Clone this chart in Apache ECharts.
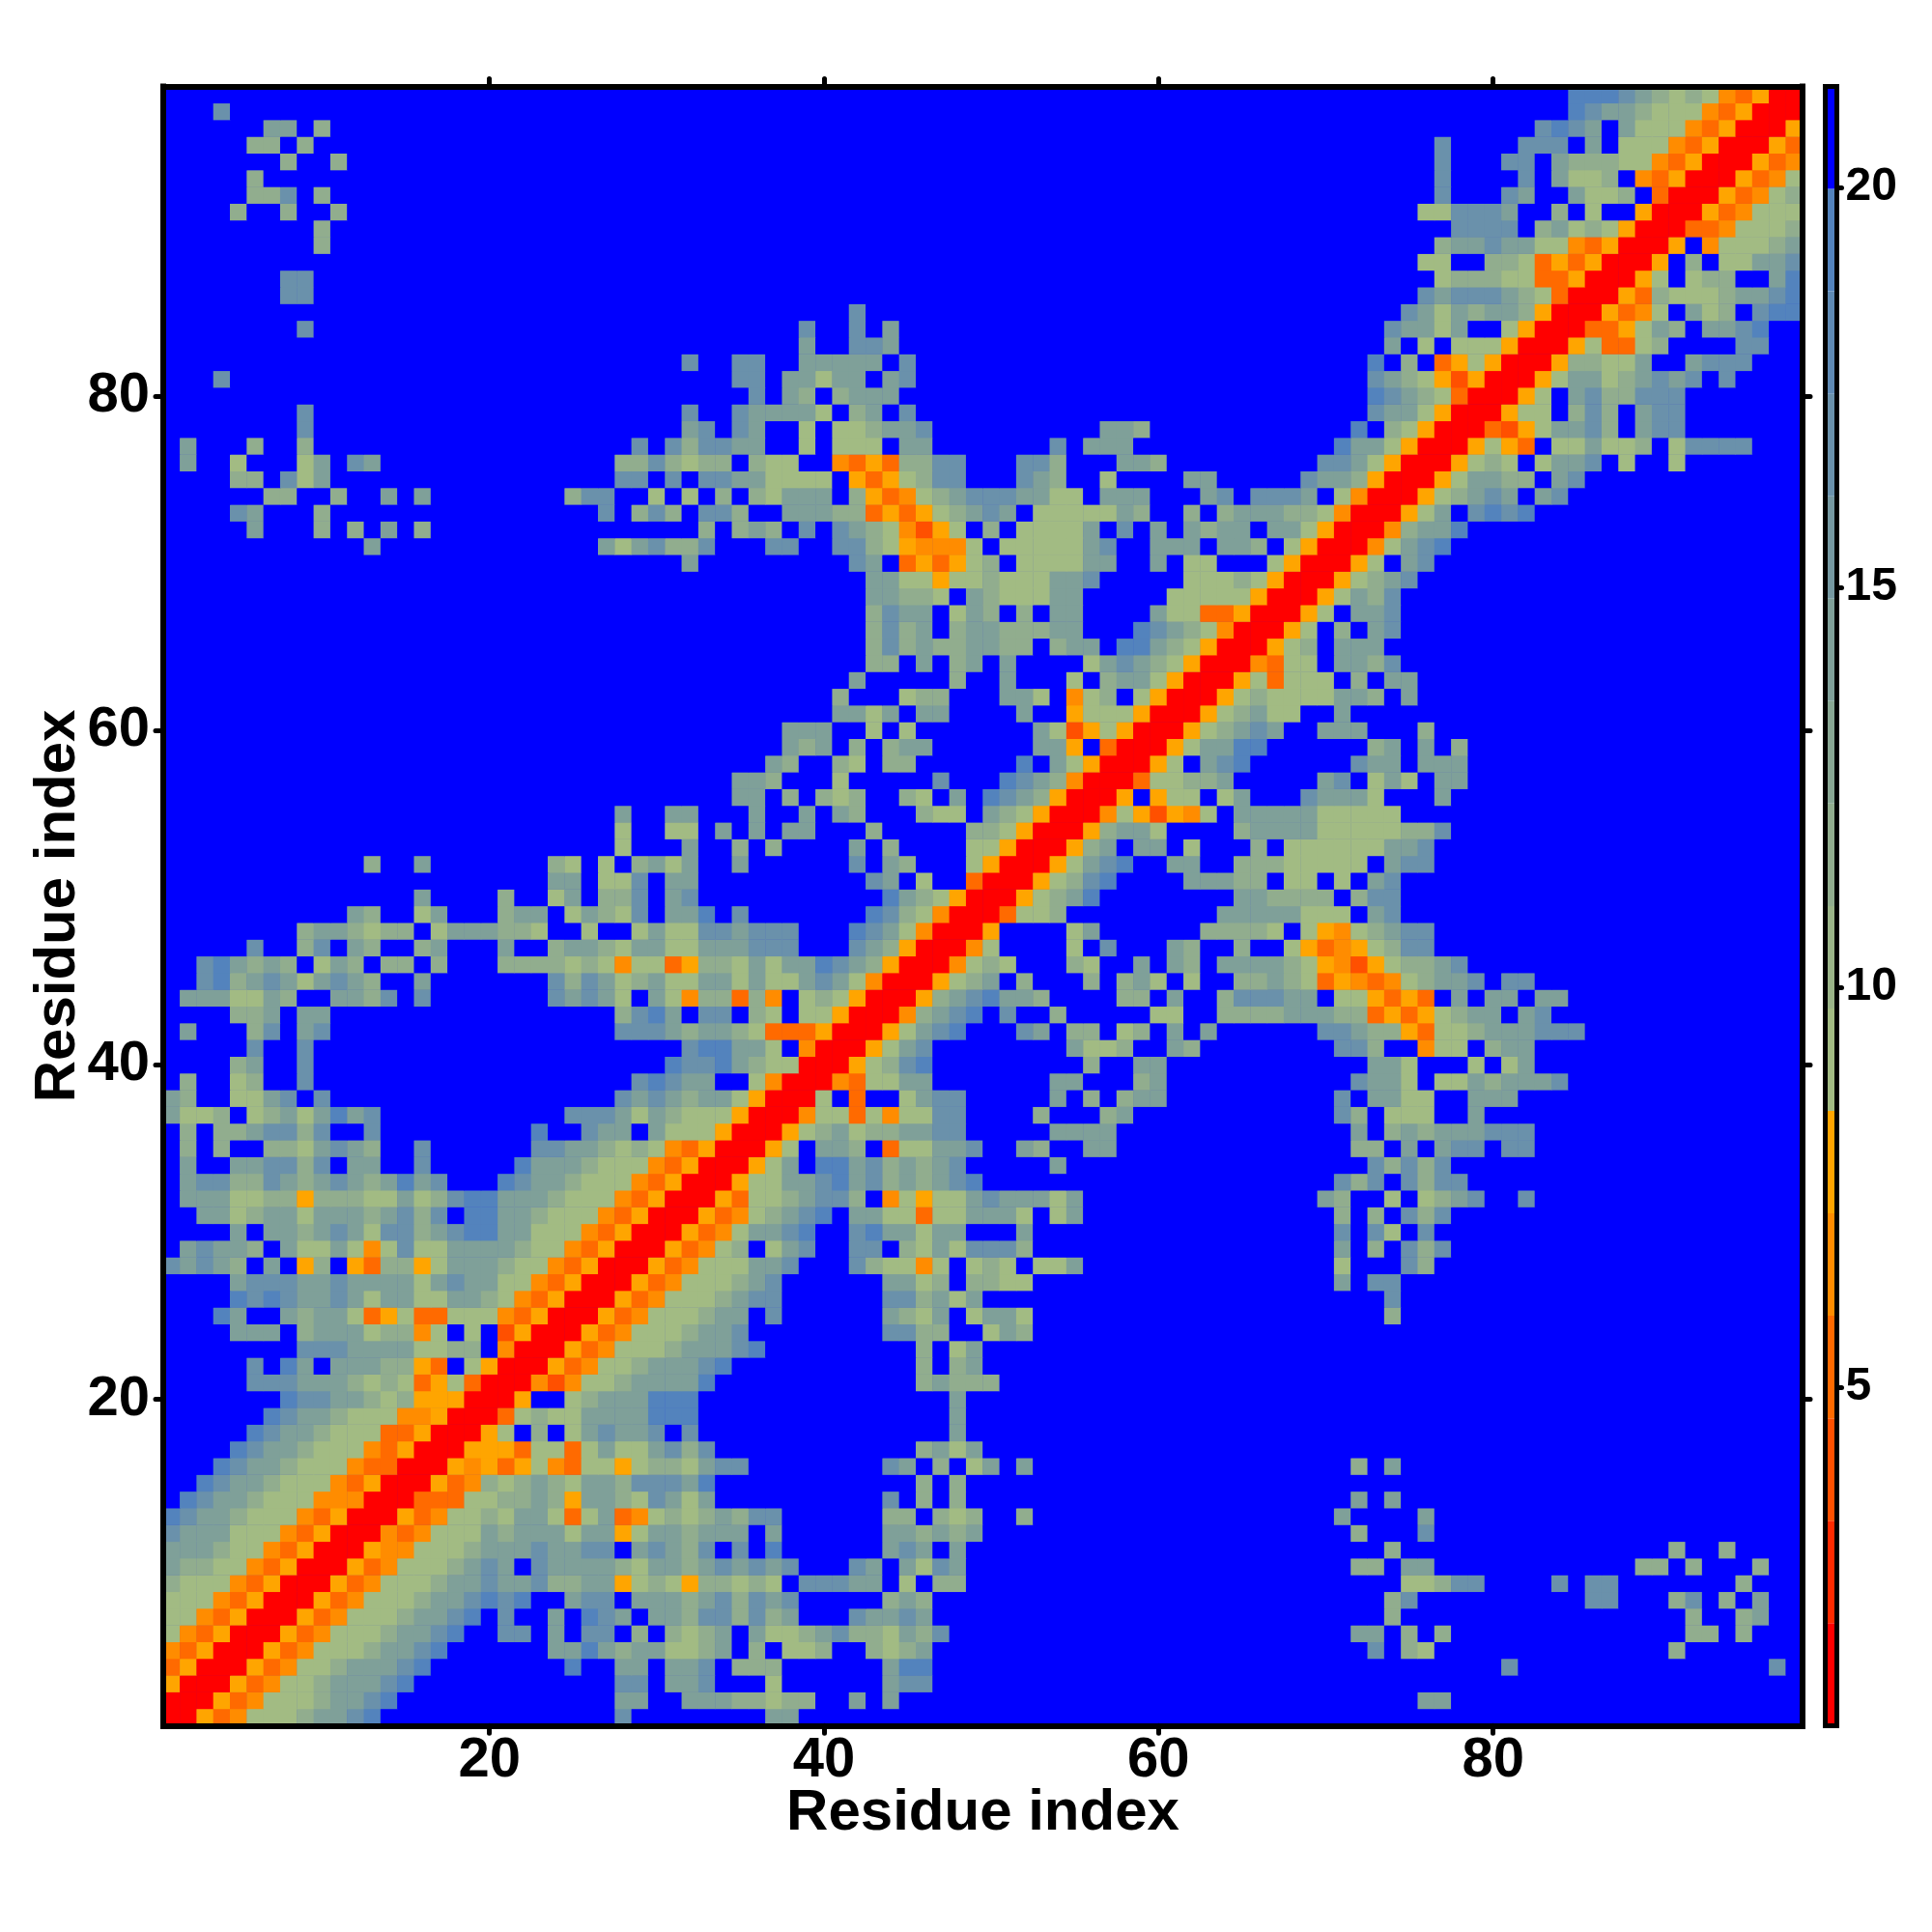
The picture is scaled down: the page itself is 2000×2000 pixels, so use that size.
<!DOCTYPE html>
<html>
<head>
<meta charset="utf-8">
<script src="https://cdn.jsdelivr.net/npm/echarts@6/dist/echarts.min.js"></script>
<style>html,body{margin:0;padding:0;background:#fff}#c{width:2000px;height:2000px}</style>
</head>
<body>
<div id="c"></div>
<script>
// Residue-pair distance map (symmetric); each row lists y : "startX:tokens" for x >= y.
const rows = [
"1:rryuoaaabccde 28:d 37:cc",
"2:rryuoaaabccde 28:cc 32:cccbbabb 42:c 44:c 76:cc",
"3:rryuoaabcccde 28:dd 31:ccd 37:a 44:cdd",
"4:rryuoaabcccde 25:e 28:cc 31:ccd 35:bbb 44:cee 81:d 97:d",
"5:rryuoaaabccde 24:ccecbccaabc.b.aab 43:babc 73:d 75:ba 91:b",
"6:rryuoaaabccde 21:dd 24:c 26:dd 29:b 31:babc.caabcdbbacbd 72:cc 75:b 77:b 92:bb 95:b",
"7:rryuoaaabccde 21:d 24:c 26:edc 30:ccbddbdbc 42:dccdc 74:b 92:b 95:bc",
"8:rryuoaaabccdede 25:cdd 29:cccbcdbdcd 44:bcb 74:bd 86:dd 91:bd 94:b 96:c",
"9:rryuoaaabccdccdbbccyabaybbaba.dddcc.a.bb 75:aabdd 84:d 86:dd 95:b",
"10:rryuoaaabcdc.dccccbaccbcdcdcd 42:dc 45:cadc 72:bb 75:cc 89:bb 92:b 96:b",
"11:rryooaaabcccdccdd.cdcbd.d.e 44:cdc 48:c 74:b 91:b 94:b",
"12:rrouoaaacbcccaccyaccbccc.c 44:ccbcbc 72:b 76:d",
"13:rryuoaabaccauacuoababcbdd 44:bb 47:bab 52:b 71:c 76:c",
"14:rruuuaabbcbyccbadcac 44:d 46:b 48:b 72:c 74:c",
"15:rryuobabcbaccbdddce 46:b 48:b",
"16:rryoyuyaouaayabbacdd 44:dc 47:b 49:ac 52:c 72:b 74:c",
"17:rryyyuaauacaacdbd 46:bcac",
"18:rrya.b.acdccd.d 48:c",
"19:rruabaacccceee 48:c",
"20:rry..abccceee 48:c",
"21:rrotoaabcccce 46:bcbbb",
"22:rryuoaabcccde 46:b 48:bc",
"23:rryuoaaabcccde 46:b 48:ac",
"24:rryuoaaabccd 44:ddbb 50:acb",
"25:rryuoaaabcc.d 44:cbac 49:acca 74:b",
"26:rryuoaaabcdd 44:ddbcac 74:d",
"27:rryuoaaabcd 44:ccab 49:bbaa 71:c 73:dd",
"28:rryuoaaaccd 42:dbaaoa 49:aba 53:aac 71:a 75:db",
"29:rryuoab.acd 42:dd 45:bacadddb 71:c 73:b 75:dbd",
"30:rryuoaccde 42:deccacc 52:c 71:d 73:da 76:d",
"31:rryuoabcde 42:ccaauaaccca 54:ac 71:b 73:b 75:dbd",
"32:rryuaabcddb.oayaacdcccac 70:cb 74:a 76:abcd 82:d",
"33:rryaaccdecdbcbcde 71:dbd 75:dbdd",
"34:rryac.eecdbcbcd 54:c 73:dbdbd",
"35:rrya.ccb.uaaccd 52:cb 56:cc 72:bb 75:c 77:cdd 81:dd",
"36:rryabcabbccdd 54:cccc 72:c 74:bcbcccddd",
"37:rroaauaoaadd 53:b 57:bc 71:db 74:aaa 79:c",
"38:rra.u..acdd 54:c 56:b 58:bcc 71:d 73:cc 75:aa 79:ccc",
"39:rrouaacc 54:cc 59:bc 72:dcc 75:a 77:aacbcccd",
"40:rryabde 56:b 59:cc 73:cc 75:a 79:a 81:ac",
"41:rryacd 55:caab 61:cb 71:ddb 76:oaa 80:bcc",
"42:rryacde 52:dc 55:bb 58:ab 61:c 63:c 70:ddcbbyuaabcccddd",
"43:rrobcde 51:d 54:b 60:aa 64:bbbbcccbbuyuyabcc 82:cd",
"44:rrybcdeccb 58:bb 61:c 64:bdddcc 71:aayuyu 78:c 80:cc 83:cc",
"45:rryabc.b 56:b 58:bca 62:a 65:bbcbauyouoabccd 81:dd",
"46:rroaba 55:ba 59:c 61:cb 64:ccccbayotyabbcd",
"47:rroa 55:a 57:d 61:cb 65:b 68:ayuoyabdd",
"48:rry 55:ac 63:bbbba 69:ayoabcdd",
"49:rruaab 64:ccccc 69:aaa 73:cd",
"50:rryabce 65:ccbbbb 72:bdd",
"51:rryabde 62:cccbb 68:aa 71:a 73:cd",
"52:rryacde 61:cc 65:bbbaaaaa 74:cdd",
"53:rrybc 59:cc 62:a 66:b 68:aaaaaaccd",
"54:rrybcca 65:bccccaaaaabbd",
"55:rroaytyoa 65:cccccaaaaa",
"56:rry.yaa 64:ac 69:dccca 77:c",
"57:rruaabbc 70:cd 73:aca 77:cc",
"58:rrya.cde 72:dcc 76:ccc",
"59:rryaccee 73:bc 76:c 78:b",
"60:rryabcdc 70:ccc 76:b",
"61:rryabcaa 71:c",
"62:rryabaaaaccb 75:c",
"63:rryauaaa.b.cc",
"64:rrouaa.ccbd",
"65:rryab.ccc",
"66:rrya.b.cd",
"67:rrya.ccd",
"68:rryacbd",
"69:rryabcd",
"70:rrya.cd",
"71:rroacde",
"72:rrobcce",
"73:rryac.dede",
"74:rryabcdc.cd",
"75:rryaccbb.cd",
"76:rryaba.accd.a 91:a",
"77:rryayu.aacaab.adddd",
"78:rrutyaccdb.cdd",
"79:rryaa.bdb.cdd",
"80:rrya.cdbbddd",
"81:rryaccabcdcd.d",
"82:rrybbaac..cddd",
"83:rryauuab 95:dd",
"84:rruuyacb.ccde",
"85:rryuoa.cab.dee",
"86:rryubaaabccde",
"87:rrya.abb..ce",
"88:rry.b.aaccd",
"89:rry.oaaabc",
"90:rruuoaaab",
"91:rryuoaaa",
"92:rryuoab",
"93:rryuoa",
"94:rryuo",
"95:rryu",
"96:rry",
"97:rr",
"98:r"
];
const tokenValue = {r:1.44,t:3.99,u:5.28,o:6.56,y:7.84,a:9.12,b:11.68,c:14.24,d:16.8,e:19.36,'.':20.64};
const farValue = 20.64;
const residues = Array.from({length:98},(_,i)=>String(i+1));
const barMin = 0.77, barMax = 21.26;
const binColors = ['#FF0000','#FF2A00','#FF5000','#FF6A00','#FF8C00','#FFA500',
  '#A2BB83','#9AB488','#91AD8E','#88A793','#7FA099','#7598A1','#6A91AB','#5F8AB4','#5383BD','#0000FF'];
const barTicks = [5,10,15,20];

const binW = (barMax-barMin)/binColors.length;
const bins = binColors.map((c,i)=>[barMin+i*binW, barMin+(i+1)*binW]);

const matrix = residues.map(()=>residues.map(()=>farValue));
rows.forEach((row,yi)=>{
  row.split(' ').forEach(seg=>{
    const [s,toks]=seg.split(':');
    [...toks].forEach((t,k)=>{
      const x=+s-1+k;
      matrix[yi][x]=tokenValue[t];
      matrix[x][yi]=tokenValue[t];
    });
  });
});
const cells=[];
matrix.forEach((r,y)=>r.forEach((v,x)=>cells.push([x,y,v])));

const isLabelled=(i,v)=>(+v)%20===0;
const FONT='"Liberation Sans",Arial,sans-serif';
const frame={show:true,onZero:false,lineStyle:{color:'#000',width:6,cap:'square'}};
const tick={show:true,length:8,alignWithLabel:true,interval:isLabelled,lineStyle:{color:'#000',width:5,cap:'round'}};
const mainLabel={show:true,interval:isLabelled,fontFamily:FONT,fontWeight:'bold',fontSize:58,color:'#000'};
const nameStyle={fontFamily:FONT,fontWeight:'bold',fontSize:60,color:'#000'};
const barFrame={show:true,onZero:false,lineStyle:{color:'#000',width:5,cap:'square'}};

const option={
  backgroundColor:'#fff',
  animation:false,
  grid:[
    {left:169,top:89.5,width:1697,height:1696.8,containLabel:false,outerBoundsMode:'none',show:true,backgroundColor:'#0000FF',borderWidth:0},
    {left:1889.5,top:89.5,width:12,height:1696.8,containLabel:false,outerBoundsMode:'none'}
  ],
  visualMap:{type:'piecewise',show:false,seriesIndex:0,dimension:2,
    pieces:bins.map((b,i)=>({gte:b[0],lt:b[1],color:binColors[i]}))},
  xAxis:[
    {type:'category',gridIndex:0,position:'bottom',data:residues,z:10,axisLine:frame,axisTick:tick,
     axisLabel:{...mainLabel,margin:8},splitLine:{show:false},
     name:'Residue index',nameLocation:'middle',nameGap:61,nameMoveOverlap:false,nameTextStyle:nameStyle},
    {type:'category',gridIndex:0,position:'top',data:residues,z:10,axisLine:frame,axisTick:tick,
     axisLabel:{show:false},splitLine:{show:false}},
    {type:'value',gridIndex:1,position:'bottom',min:0,max:1,z:10,axisLine:barFrame,axisTick:{show:false},axisLabel:{show:false},splitLine:{show:false}},
    {type:'value',gridIndex:1,position:'top',min:0,max:1,z:10,axisLine:barFrame,axisTick:{show:false},axisLabel:{show:false},splitLine:{show:false}}
  ],
  yAxis:[
    {type:'category',gridIndex:0,position:'left',data:residues,z:10,axisLine:frame,axisTick:tick,
     axisLabel:{...mainLabel,margin:14,padding:[6,0,0,0]},splitLine:{show:false},
     name:'Residue index',nameLocation:'middle',nameGap:79,nameRotate:90,nameMoveOverlap:false,nameTextStyle:nameStyle},
    {type:'category',gridIndex:0,position:'right',data:residues,z:10,axisLine:frame,axisTick:tick,
     axisLabel:{show:false},splitLine:{show:false}},
    {type:'value',gridIndex:1,position:'right',min:barMin,max:barMax,z:10,axisLine:barFrame,
     axisTick:{show:true,length:5,customValues:barTicks,lineStyle:{color:'#000',width:5,cap:'round'}},
     axisLabel:{show:true,margin:9,padding:[6,0,0,0],customValues:barTicks,fontFamily:FONT,fontWeight:'bold',fontSize:48,color:'#000'},
     splitLine:{show:false}},
    {type:'value',gridIndex:1,position:'left',min:barMin,max:barMax,z:10,axisLine:barFrame,axisTick:{show:false},axisLabel:{show:false},splitLine:{show:false}}
  ],
  series:[
    {type:'heatmap',xAxisIndex:0,yAxisIndex:0,data:cells,progressive:0,silent:true,
     emphasis:{disabled:true},itemStyle:{borderWidth:0}},
    {type:'custom',xAxisIndex:2,yAxisIndex:2,silent:true,clip:true,
     data:bins.map((b,i)=>[b[0],b[1],i]),
     encode:{y:[0,1]},
     renderItem:(params,api)=>{
       const a=api.coord([0,api.value(0)]);
       const b=api.coord([1,api.value(1)]);
       return {type:'rect',shape:{x:a[0],y:b[1],width:b[0]-a[0],height:a[1]-b[1]},
         style:{fill:binColors[api.value(2)]}};
     }}
  ]
};
const chart=echarts.init(document.getElementById('c'),null,{renderer:'canvas',width:2000,height:2000});
chart.setOption(option);
</script>
</body>
</html>
